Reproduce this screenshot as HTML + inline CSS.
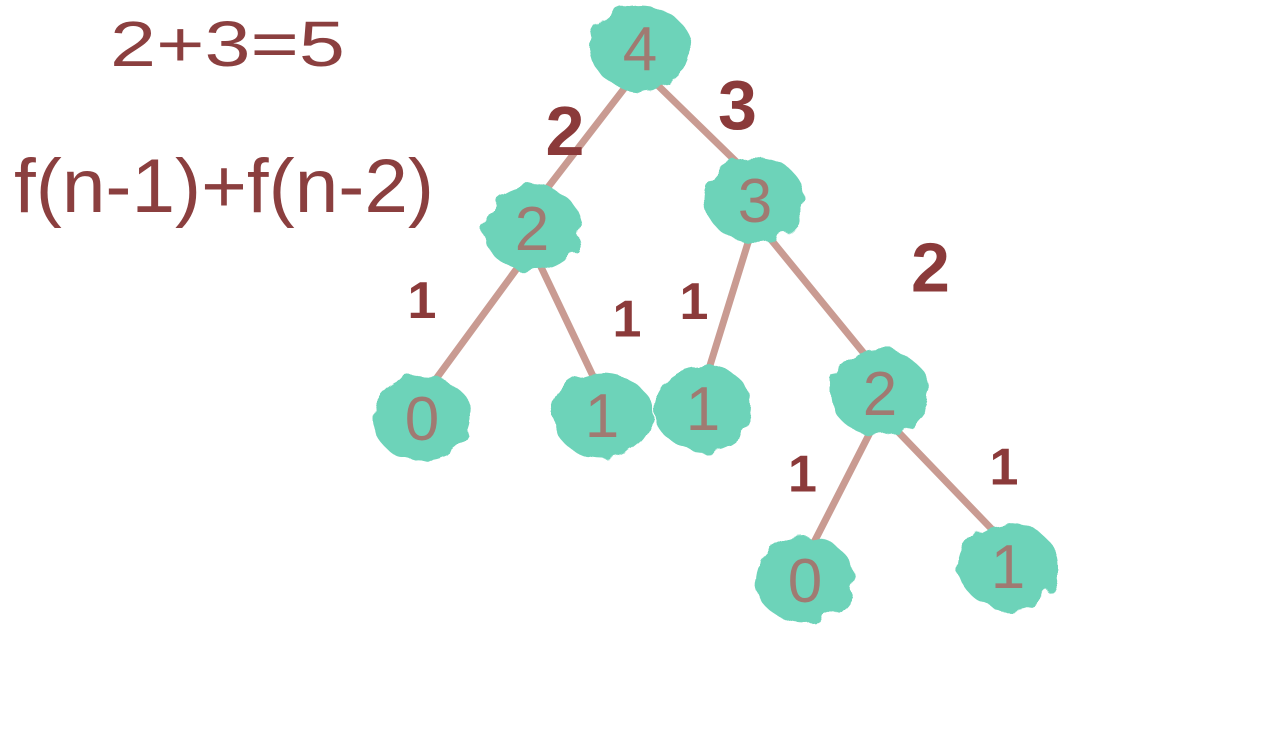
<!DOCTYPE html>
<html><head><meta charset="utf-8"><style>
html,body{margin:0;padding:0;background:#fff;}
svg{display:block;}
</style></head><body>
<svg id="c" width="1280" height="737" viewBox="0 0 1280 737">
<defs>
<filter id="rough"><feTurbulence type="fractalNoise" baseFrequency="0.05" numOctaves="2" seed="3"/><feDisplacementMap in="SourceGraphic" scale="14"/></filter>
</defs>
<text x="110" y="66" font-family="Liberation Sans, sans-serif" font-size="64" fill="#8b3f3f" textLength="235" lengthAdjust="spacingAndGlyphs">2+3=5</text>
<text x="14" y="212" font-family="Liberation Sans, sans-serif" font-size="76" fill="#8b3f3f" textLength="420" lengthAdjust="spacingAndGlyphs">f(n-1)+f(n-2)</text>
<g id="edges"></g><g id="nodes"></g><g id="labels"></g>
</svg>
<script>
const nodeLabels=["4","2","3","0","1","1","2","0","1"];
const nodeX=[640,532,755,422,602,703,880,805,1008];
const nodeY=[48,228,200,418,415,408,393,580,566];
const edgeFrom=[0,0,1,1,2,2,6,6];
const edgeTo=[1,2,3,4,5,6,7,8];
const edgeLabels=["2","3","1","1","1","2","1","1"];
const NS="http://www.w3.org/2000/svg";
const eg=document.getElementById('edges'),ng=document.getElementById('nodes'),lg=document.getElementById('labels');
const lblPos=[[-21,-8],[40,-20],[-55,-25],[60,-5],[-35,-5],[113,-30],[-40,-15],[60,-15]];
for(let i=0;i<edgeFrom.length;i++){
  const a=edgeFrom[i],b=edgeTo[i];
  const l=document.createElementNS(NS,'line');
  l.setAttribute('x1',nodeX[a]);l.setAttribute('y1',nodeY[a]+20);
  l.setAttribute('x2',nodeX[b]);l.setAttribute('y2',nodeY[b]-20);
  l.setAttribute('stroke','#c99b92');l.setAttribute('stroke-width','7');l.setAttribute('stroke-linecap','round');
  
  
  eg.appendChild(l);
  const mx=(nodeX[a]+nodeX[b])/2+lblPos[i][0],my=(nodeY[a]+nodeY[b])/2+lblPos[i][1];
  const t=document.createElementNS(NS,'text');
  const big=edgeLabels[i]!=="1";
  t.setAttribute('x',mx);t.setAttribute('y',my+(big?25:20));
  t.setAttribute('font-family','Liberation Sans, sans-serif');
  t.setAttribute('font-weight','bold');
  t.setAttribute('font-size',big?'70':'52');
  t.setAttribute('text-anchor','middle');
  t.setAttribute('fill','#8b3a3a');
  t.textContent=edgeLabels[i];
  
  
  lg.appendChild(t);
}
for(let i=0;i<nodeLabels.length;i++){
  const g=document.createElementNS(NS,'g');
  
  
  const e=document.createElementNS(NS,'ellipse');
  e.setAttribute('cx',nodeX[i]);e.setAttribute('cy',nodeY[i]);
  e.setAttribute('rx',50);e.setAttribute('ry',43);
  e.setAttribute('fill','#6dd3b9');e.setAttribute('filter','url(#rough)');
  g.appendChild(e);
  const t=document.createElementNS(NS,'text');
  t.setAttribute('x',nodeX[i]);t.setAttribute('y',nodeY[i]+22);
  t.setAttribute('font-family','Liberation Sans, sans-serif');
  t.setAttribute('font-size','62');t.setAttribute('text-anchor','middle');
  t.setAttribute('fill','#a07a72');
  t.textContent=nodeLabels[i];
  g.appendChild(t);
  ng.appendChild(g);
}
</script>
</body></html>
